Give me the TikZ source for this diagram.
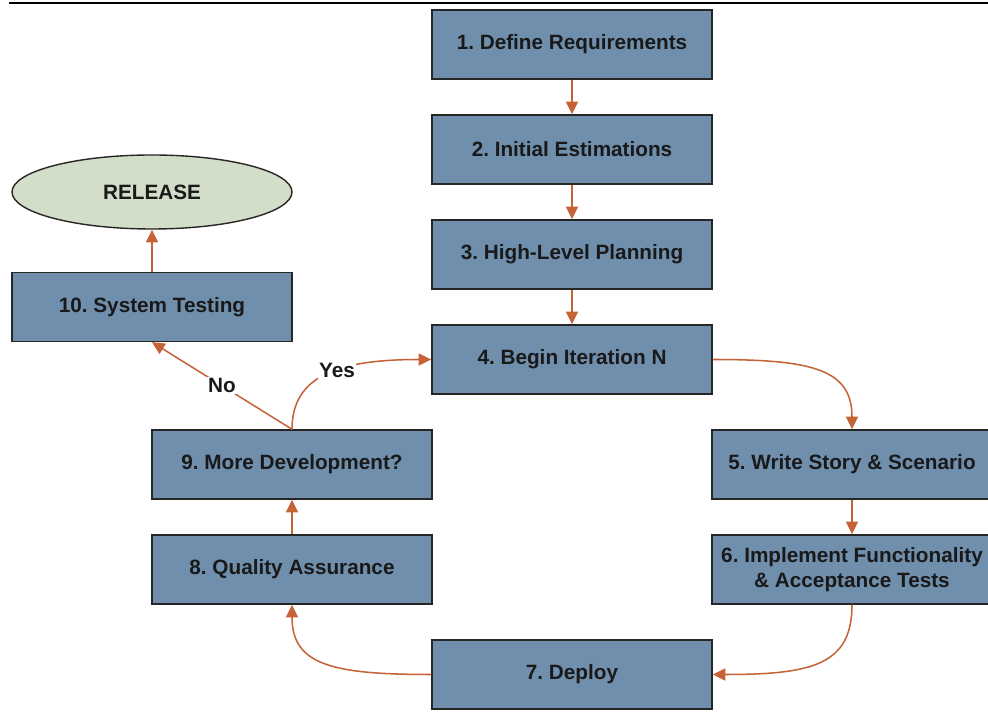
\documentclass[tikz,border=0pt]{standalone}
\usepackage{fontspec}
\setmainfont{Liberation Sans}
\usepackage{tikz}
\usetikzlibrary{arrows.meta}
\usetikzlibrary{shapes}

\definecolor{stepblue}{RGB}{111,143,173}
\definecolor{releasegreen}{RGB}{211,222,201}
\definecolor{flowrust}{RGB}{197,98,55}

\frenchspacing

\begin{document}
\begin{tikzpicture}[
        step_style/.style={rectangle,draw=black!85,fill=stepblue,line width=1.2pt,minimum width=8.4cm,minimum height=2.07cm,inner sep=0pt,align=center,text=black!90,font=\fontsize{17.7}{21.3}\selectfont\bfseries},
        release_style/.style={ellipse,draw=black!85,fill=releasegreen,line width=1.2pt,minimum width=8.4cm,minimum height=2.22cm,inner sep=0pt,text=black!90,font=\fontsize{17.7}{21.3}\selectfont\bfseries},
        flow_style/.style={draw=flowrust,line width=1.3pt,-{Triangle[length=0.38cm,width=0.36cm]}},
        answer_style/.style={fill=white,inner sep=1pt,text=black!90,font=\fontsize{17.7}{21.3}\selectfont\bfseries}]

        \useasboundingbox (0,0) rectangle (29.64,21.39);
        \draw [line width=1.7pt] (0.27,21.29) -- (29.64,21.29);

        \node [step_style](b1) at (17.16,20.055) {1. Define Requirements};

        \node [step_style](b2) at (17.16,16.905) {2. Initial Estimations};

        \node [step_style](b3) at (17.16,13.755) {3. High-Level Planning};

        \node [step_style](b4) at (17.16,10.605) {4. Begin Iteration N};

        \node [step_style](b5) at (25.56,7.455) {5. Write Story \& Scenario};

        \node [step_style](b6) at (25.56,4.305) {6. Implement Functionality\\\& Acceptance Tests};

        \node [step_style](b7) at (17.16,1.155) {7. Deploy};

        \node [step_style](b8) at (8.76,4.305) {8. Quality Assurance};

        \node [step_style](b9) at (8.76,7.455) {9. More Development?};

        \node [step_style](b10) at (4.56,12.18) {10. System Testing};

        \node [release_style](rel) at (4.56,15.63) {RELEASE};

        \draw [flow_style] (b1) -- (b2);

        \draw [flow_style] (b2) -- (b3);

        \draw [flow_style] (b3) -- (b4);

        \draw [flow_style] (b4.east) .. controls +(3.0,0) and +(0,1.8) .. (b5.north);

        \draw [flow_style] (b5) -- (b6);

        \draw [flow_style] (b6.south) .. controls +(0,-1.8) and +(3.0,0) .. (b7.east);

        \draw [flow_style] (b7.west) .. controls +(-3.0,0) and +(0,-1.8) .. (b8.south);

        \draw [flow_style] (b8) -- (b9);

        \draw [flow_style] (b9.north) .. controls +(0,1.6) and +(-2.8,0) .. node[answer_style,pos=0.57]{Yes} (b4.west);

        \draw [flow_style] (b9.north) -- node[answer_style]{No} (b10.south);

        \draw [flow_style] (b10) -- (rel);

        \end{tikzpicture}
\end{document}
